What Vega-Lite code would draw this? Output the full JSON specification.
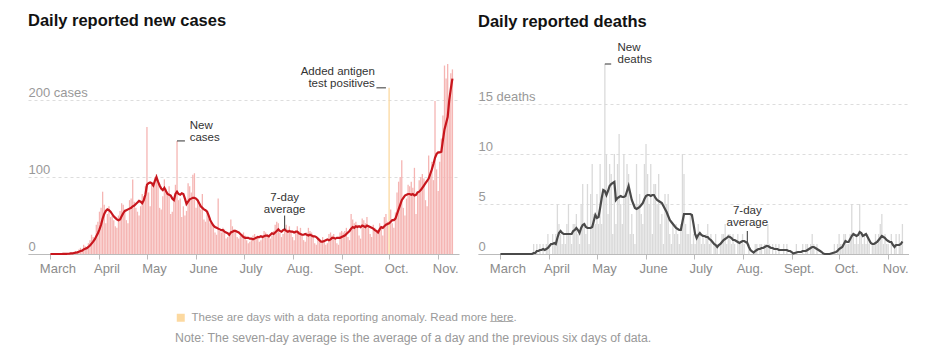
{
"$schema":"https://vega.github.io/schema/vega-lite/v6.json",
"padding":{"left":28,"top":12,"right":0,"bottom":0},
"bounds":"flush",
"spacing":19,
"config":{"font":"Liberation Sans","view":{"stroke":null}},
"datasets":{
"d":[
{"t":"2020-03-01","c":0,"ca":0,"d":0,"da":0,"k":"n"},
{"t":"2020-03-02","c":0,"ca":0,"d":0,"da":0,"k":"n"},
{"t":"2020-03-03","c":0,"ca":0,"d":0,"da":0,"k":"n"},
{"t":"2020-03-04","c":0,"ca":0,"d":0,"da":0,"k":"n"},
{"t":"2020-03-05","c":0,"ca":0,"d":0,"da":0,"k":"n"},
{"t":"2020-03-06","c":0,"ca":0,"d":0,"da":0,"k":"n"},
{"t":"2020-03-07","c":0,"ca":0,"d":0,"da":0,"k":"n"},
{"t":"2020-03-08","c":0,"ca":0,"d":0,"da":0,"k":"n"},
{"t":"2020-03-09","c":1,"ca":0.1,"d":0,"da":0,"k":"n"},
{"t":"2020-03-10","c":0,"ca":0.1,"d":0,"da":0,"k":"n"},
{"t":"2020-03-11","c":0,"ca":0.1,"d":0,"da":0,"k":"n"},
{"t":"2020-03-12","c":1,"ca":0.3,"d":0,"da":0,"k":"n"},
{"t":"2020-03-13","c":1,"ca":0.4,"d":0,"da":0,"k":"n"},
{"t":"2020-03-14","c":2,"ca":0.7,"d":0,"da":0,"k":"n"},
{"t":"2020-03-15","c":1,"ca":0.9,"d":0,"da":0,"k":"n"},
{"t":"2020-03-16","c":3,"ca":1.3,"d":0,"da":0,"k":"n"},
{"t":"2020-03-17","c":4,"ca":1.7,"d":0,"da":0,"k":"n"},
{"t":"2020-03-18","c":3,"ca":2.1,"d":0,"da":0,"k":"n"},
{"t":"2020-03-19","c":6,"ca":2.9,"d":0,"da":0,"k":"n"},
{"t":"2020-03-20","c":8,"ca":3.9,"d":0,"da":0,"k":"n"},
{"t":"2020-03-21","c":5,"ca":4.3,"d":0,"da":0,"k":"n"},
{"t":"2020-03-22","c":12,"ca":5.9,"d":1,"da":0.1,"k":"n"},
{"t":"2020-03-23","c":10,"ca":6.9,"d":0,"da":0.1,"k":"n"},
{"t":"2020-03-24","c":9,"ca":7.6,"d":1,"da":0.3,"k":"n"},
{"t":"2020-03-25","c":14,"ca":9.1,"d":0,"da":0.3,"k":"n"},
{"t":"2020-03-26","c":18,"ca":11,"d":1,"da":0.4,"k":"n"},
{"t":"2020-03-27","c":25,"ca":13.5,"d":0,"da":0.4,"k":"n"},
{"t":"2020-03-28","c":22,"ca":16,"d":1,"da":0.5,"k":"n"},
{"t":"2020-03-29","c":20,"ca":19,"d":0,"da":0.4,"k":"n"},
{"t":"2020-03-30","c":38,"ca":23,"d":1,"da":0.5,"k":"n"},
{"t":"2020-03-31","c":42,"ca":27,"d":2,"da":0.6,"k":"n"},
{"t":"2020-04-01","c":55,"ca":32,"d":1,"da":0.8,"k":"n"},
{"t":"2020-04-02","c":60,"ca":38,"d":0,"da":1.0,"k":"n"},
{"t":"2020-04-03","c":81,"ca":46,"d":2,"da":1.0,"k":"n"},
{"t":"2020-04-04","c":64,"ca":52,"d":1,"da":1.1,"k":"n"},
{"t":"2020-04-05","c":40,"ca":56,"d":2,"da":1.0,"k":"n"},
{"t":"2020-04-06","c":52,"ca":58,"d":5,"da":1.6,"k":"n"},
{"t":"2020-04-07","c":62,"ca":57,"d":3,"da":2.1,"k":"n"},
{"t":"2020-04-08","c":48,"ca":55,"d":2,"da":2.3,"k":"n"},
{"t":"2020-04-09","c":50,"ca":52,"d":1,"da":2.1,"k":"n"},
{"t":"2020-04-10","c":44,"ca":49,"d":2,"da":2.0,"k":"n"},
{"t":"2020-04-11","c":36,"ca":47,"d":1,"da":2.0,"k":"n"},
{"t":"2020-04-12","c":34,"ca":45,"d":3,"da":2.0,"k":"n"},
{"t":"2020-04-13","c":50,"ca":44,"d":5,"da":2.0,"k":"n"},
{"t":"2020-04-14","c":56,"ca":45,"d":2,"da":2.0,"k":"n"},
{"t":"2020-04-15","c":66,"ca":49,"d":1,"da":2.0,"k":"n"},
{"t":"2020-04-16","c":64,"ca":53,"d":3,"da":2.3,"k":"n"},
{"t":"2020-04-17","c":58,"ca":56,"d":3,"da":2.4,"k":"n"},
{"t":"2020-04-18","c":44,"ca":57,"d":4,"da":2.6,"k":"n"},
{"t":"2020-04-19","c":40,"ca":58,"d":2,"da":2.4,"k":"n"},
{"t":"2020-04-20","c":70,"ca":59,"d":1,"da":2.1,"k":"n"},
{"t":"2020-04-21","c":72,"ca":60,"d":5,"da":2.6,"k":"n"},
{"t":"2020-04-22","c":97,"ca":62,"d":7,"da":2.9,"k":"n"},
{"t":"2020-04-23","c":68,"ca":63,"d":3,"da":3.0,"k":"n"},
{"t":"2020-04-24","c":60,"ca":65,"d":2,"da":2.7,"k":"n"},
{"t":"2020-04-25","c":55,"ca":67,"d":7,"da":2.6,"k":"n"},
{"t":"2020-04-26","c":50,"ca":69,"d":1,"da":2.6,"k":"n"},
{"t":"2020-04-27","c":62,"ca":68,"d":6,"da":2.6,"k":"n"},
{"t":"2020-04-28","c":78,"ca":66,"d":9,"da":2.7,"k":"n"},
{"t":"2020-04-29","c":75,"ca":70,"d":4,"da":3.3,"k":"n"},
{"t":"2020-04-30","c":88,"ca":77,"d":3,"da":3.9,"k":"n"},
{"t":"2020-05-01","c":165,"ca":90,"d":6,"da":3.6,"k":"n"},
{"t":"2020-05-02","c":80,"ca":92,"d":3,"da":3.7,"k":"n"},
{"t":"2020-05-03","c":62,"ca":93,"d":9,"da":4.6,"k":"n"},
{"t":"2020-05-04","c":90,"ca":92,"d":3,"da":5.6,"k":"n"},
{"t":"2020-05-05","c":86,"ca":89,"d":6,"da":6.4,"k":"n"},
{"t":"2020-05-06","c":100,"ca":95,"d":19,"da":6.3,"k":"n"},
{"t":"2020-05-07","c":104,"ca":100,"d":10,"da":5.9,"k":"n"},
{"t":"2020-05-08","c":92,"ca":94,"d":4,"da":6.3,"k":"n"},
{"t":"2020-05-09","c":60,"ca":89,"d":9,"da":6.8,"k":"n"},
{"t":"2020-05-10","c":58,"ca":85,"d":8,"da":7.0,"k":"n"},
{"t":"2020-05-11","c":75,"ca":83,"d":2,"da":7.1,"k":"n"},
{"t":"2020-05-12","c":97,"ca":86,"d":10,"da":7.2,"k":"n"},
{"t":"2020-05-13","c":85,"ca":82,"d":3,"da":5.4,"k":"n"},
{"t":"2020-05-14","c":80,"ca":78,"d":9,"da":5.6,"k":"n"},
{"t":"2020-05-15","c":88,"ca":77,"d":12,"da":5.7,"k":"n"},
{"t":"2020-05-16","c":52,"ca":76,"d":5,"da":5.8,"k":"n"},
{"t":"2020-05-17","c":55,"ca":72,"d":3,"da":5.7,"k":"n"},
{"t":"2020-05-18","c":68,"ca":70,"d":10,"da":5.7,"k":"n"},
{"t":"2020-05-19","c":90,"ca":78,"d":6,"da":5.8,"k":"n"},
{"t":"2020-05-20","c":147,"ca":81,"d":9,"da":6.3,"k":"n"},
{"t":"2020-05-21","c":70,"ca":78,"d":8,"da":6.8,"k":"n"},
{"t":"2020-05-22","c":72,"ca":77,"d":2,"da":6.1,"k":"n"},
{"t":"2020-05-23","c":48,"ca":79,"d":4,"da":5.4,"k":"n"},
{"t":"2020-05-24","c":62,"ca":78,"d":2,"da":5.0,"k":"n"},
{"t":"2020-05-25","c":50,"ca":72,"d":1,"da":4.6,"k":"n"},
{"t":"2020-05-26","c":56,"ca":65,"d":9,"da":4.5,"k":"n"},
{"t":"2020-05-27","c":92,"ca":68,"d":5,"da":4.6,"k":"n"},
{"t":"2020-05-28","c":88,"ca":71,"d":6,"da":4.7,"k":"n"},
{"t":"2020-05-29","c":80,"ca":72,"d":4,"da":4.9,"k":"n"},
{"t":"2020-05-30","c":103,"ca":73,"d":3,"da":5.1,"k":"n"},
{"t":"2020-05-31","c":105,"ca":73,"d":9,"da":5.5,"k":"n"},
{"t":"2020-06-01","c":60,"ca":72,"d":11,"da":5.8,"k":"n"},
{"t":"2020-06-02","c":70,"ca":70,"d":8,"da":5.9,"k":"n"},
{"t":"2020-06-03","c":64,"ca":66,"d":5,"da":5.9,"k":"n"},
{"t":"2020-06-04","c":58,"ca":62,"d":9,"da":5.8,"k":"n"},
{"t":"2020-06-05","c":78,"ca":60,"d":2,"da":5.9,"k":"n"},
{"t":"2020-06-06","c":45,"ca":58,"d":7,"da":5.9,"k":"n"},
{"t":"2020-06-07","c":42,"ca":57,"d":7,"da":5.6,"k":"n"},
{"t":"2020-06-08","c":55,"ca":55,"d":5,"da":5.4,"k":"n"},
{"t":"2020-06-09","c":46,"ca":50,"d":8,"da":5.3,"k":"n"},
{"t":"2020-06-10","c":40,"ca":44,"d":3,"da":5.2,"k":"n"},
{"t":"2020-06-11","c":38,"ca":40,"d":4,"da":5.1,"k":"n"},
{"t":"2020-06-12","c":36,"ca":37,"d":1,"da":4.8,"k":"n"},
{"t":"2020-06-13","c":28,"ca":35,"d":6,"da":4.5,"k":"n"},
{"t":"2020-06-14","c":25,"ca":34,"d":5,"da":4.2,"k":"n"},
{"t":"2020-06-15","c":72,"ca":33,"d":6,"da":3.8,"k":"n"},
{"t":"2020-06-16","c":30,"ca":32,"d":2,"da":3.4,"k":"n"},
{"t":"2020-06-17","c":28,"ca":31,"d":1,"da":3.2,"k":"n"},
{"t":"2020-06-18","c":34,"ca":31,"d":3,"da":3.0,"k":"n"},
{"t":"2020-06-19","c":32,"ca":29,"d":2,"da":2.8,"k":"n"},
{"t":"2020-06-20","c":20,"ca":28,"d":3,"da":2.6,"k":"n"},
{"t":"2020-06-21","c":22,"ca":27,"d":2,"da":2.5,"k":"n"},
{"t":"2020-06-22","c":26,"ca":25,"d":1,"da":2.4,"k":"n"},
{"t":"2020-06-23","c":45,"ca":28,"d":3,"da":2.4,"k":"n"},
{"t":"2020-06-24","c":36,"ca":29,"d":10,"da":3.2,"k":"n"},
{"t":"2020-06-25","c":32,"ca":30,"d":8,"da":4.0,"k":"n"},
{"t":"2020-06-26","c":30,"ca":30,"d":3,"da":4.0,"k":"n"},
{"t":"2020-06-27","c":22,"ca":29,"d":2,"da":4.0,"k":"n"},
{"t":"2020-06-28","c":20,"ca":28,"d":2,"da":4.0,"k":"n"},
{"t":"2020-06-29","c":24,"ca":26,"d":4,"da":4.0,"k":"n"},
{"t":"2020-06-30","c":26,"ca":24,"d":1,"da":3.9,"k":"n"},
{"t":"2020-07-01","c":28,"ca":22,"d":2,"da":3.0,"k":"n"},
{"t":"2020-07-02","c":24,"ca":21,"d":1,"da":2.0,"k":"n"},
{"t":"2020-07-03","c":18,"ca":21,"d":2,"da":1.6,"k":"n"},
{"t":"2020-07-04","c":14,"ca":21,"d":3,"da":1.9,"k":"n"},
{"t":"2020-07-05","c":16,"ca":20,"d":2,"da":2.1,"k":"n"},
{"t":"2020-07-06","c":20,"ca":20,"d":1,"da":1.9,"k":"n"},
{"t":"2020-07-07","c":24,"ca":19,"d":2,"da":1.8,"k":"n"},
{"t":"2020-07-08","c":26,"ca":20,"d":1,"da":1.8,"k":"n"},
{"t":"2020-07-09","c":22,"ca":21,"d":2,"da":1.7,"k":"n"},
{"t":"2020-07-10","c":24,"ca":22,"d":3,"da":1.7,"k":"n"},
{"t":"2020-07-11","c":16,"ca":22,"d":1,"da":1.5,"k":"n"},
{"t":"2020-07-12","c":18,"ca":23,"d":2,"da":1.4,"k":"n"},
{"t":"2020-07-13","c":22,"ca":22,"d":0,"da":1.2,"k":"n"},
{"t":"2020-07-14","c":30,"ca":23,"d":1,"da":1.0,"k":"n"},
{"t":"2020-07-15","c":28,"ca":24,"d":2,"da":0.9,"k":"n"},
{"t":"2020-07-16","c":26,"ca":24,"d":1,"da":0.7,"k":"n"},
{"t":"2020-07-17","c":22,"ca":23,"d":0,"da":0.9,"k":"n"},
{"t":"2020-07-18","c":20,"ca":25,"d":1,"da":1.0,"k":"n"},
{"t":"2020-07-19","c":24,"ca":27,"d":2,"da":1.2,"k":"n"},
{"t":"2020-07-20","c":30,"ca":26,"d":2,"da":1.4,"k":"n"},
{"t":"2020-07-21","c":38,"ca":28,"d":3,"da":1.5,"k":"n"},
{"t":"2020-07-22","c":42,"ca":30,"d":1,"da":1.6,"k":"n"},
{"t":"2020-07-23","c":40,"ca":32,"d":2,"da":1.75,"k":"n"},
{"t":"2020-07-24","c":28,"ca":30,"d":2,"da":1.7,"k":"n"},
{"t":"2020-07-25","c":22,"ca":29,"d":1,"da":1.6,"k":"n"},
{"t":"2020-07-26","c":26,"ca":31,"d":2,"da":1.4,"k":"n"},
{"t":"2020-07-27","c":34,"ca":32,"d":1,"da":1.4,"k":"n"},
{"t":"2020-07-28","c":38,"ca":30,"d":0,"da":1.3,"k":"n"},
{"t":"2020-07-29","c":32,"ca":29,"d":2,"da":1.2,"k":"n"},
{"t":"2020-07-30","c":36,"ca":30,"d":1,"da":1.1,"k":"n"},
{"t":"2020-07-31","c":30,"ca":29,"d":1,"da":1.2,"k":"n"},
{"t":"2020-08-01","c":22,"ca":29,"d":2,"da":1.3,"k":"n"},
{"t":"2020-08-02","c":18,"ca":28,"d":1,"da":1.3,"k":"n"},
{"t":"2020-08-03","c":30,"ca":29,"d":0,"da":1.2,"k":"n"},
{"t":"2020-08-04","c":36,"ca":29,"d":0,"da":1.1,"k":"n"},
{"t":"2020-08-05","c":30,"ca":27,"d":1,"da":0.7,"k":"n"},
{"t":"2020-08-06","c":34,"ca":26,"d":0,"da":0.4,"k":"n"},
{"t":"2020-08-07","c":26,"ca":25,"d":0,"da":0.25,"k":"n"},
{"t":"2020-08-08","c":18,"ca":25,"d":0,"da":0.15,"k":"n"},
{"t":"2020-08-09","c":16,"ca":26,"d":1,"da":0.3,"k":"n"},
{"t":"2020-08-10","c":28,"ca":25,"d":1,"da":0.4,"k":"n"},
{"t":"2020-08-11","c":34,"ca":24,"d":0,"da":0.5,"k":"n"},
{"t":"2020-08-12","c":30,"ca":25,"d":1,"da":0.5,"k":"n"},
{"t":"2020-08-13","c":28,"ca":24,"d":1,"da":0.6,"k":"n"},
{"t":"2020-08-14","c":24,"ca":23,"d":0,"da":0.6,"k":"n"},
{"t":"2020-08-15","c":14,"ca":23,"d":1,"da":0.7,"k":"n"},
{"t":"2020-08-16","c":12,"ca":22,"d":1,"da":0.8,"k":"n"},
{"t":"2020-08-17","c":20,"ca":20,"d":3,"da":0.8,"k":"n"},
{"t":"2020-08-18","c":18,"ca":18,"d":1,"da":0.7,"k":"n"},
{"t":"2020-08-19","c":16,"ca":16,"d":0,"da":0.6,"k":"n"},
{"t":"2020-08-20","c":22,"ca":16,"d":1,"da":0.6,"k":"n"},
{"t":"2020-08-21","c":18,"ca":17,"d":0,"da":0.5,"k":"n"},
{"t":"2020-08-22","c":12,"ca":18,"d":1,"da":0.5,"k":"n"},
{"t":"2020-08-23","c":14,"ca":19,"d":0,"da":0.5,"k":"n"},
{"t":"2020-08-24","c":26,"ca":18,"d":1,"da":0.4,"k":"n"},
{"t":"2020-08-25","c":28,"ca":19,"d":0,"da":0.4,"k":"n"},
{"t":"2020-08-26","c":24,"ca":21,"d":0,"da":0.4,"k":"n"},
{"t":"2020-08-27","c":26,"ca":21,"d":1,"da":0.4,"k":"n"},
{"t":"2020-08-28","c":20,"ca":20,"d":0,"da":0.4,"k":"n"},
{"t":"2020-08-29","c":14,"ca":21,"d":1,"da":0.4,"k":"n"},
{"t":"2020-08-30","c":12,"ca":21,"d":0,"da":0.3,"k":"n"},
{"t":"2020-08-31","c":28,"ca":21,"d":0,"da":0.3,"k":"n"},
{"t":"2020-09-01","c":30,"ca":22,"d":0,"da":0.2,"k":"n"},
{"t":"2020-09-02","c":28,"ca":23,"d":0,"da":0.05,"k":"n"},
{"t":"2020-09-03","c":30,"ca":24,"d":0,"da":0.1,"k":"n"},
{"t":"2020-09-04","c":34,"ca":26,"d":1,"da":0.15,"k":"n"},
{"t":"2020-09-05","c":22,"ca":28,"d":0,"da":0.2,"k":"n"},
{"t":"2020-09-06","c":18,"ca":30,"d":0,"da":0.2,"k":"n"},
{"t":"2020-09-07","c":52,"ca":33,"d":0,"da":0.2,"k":"n"},
{"t":"2020-09-08","c":45,"ca":35,"d":1,"da":0.3,"k":"n"},
{"t":"2020-09-09","c":40,"ca":34,"d":0,"da":0.3,"k":"n"},
{"t":"2020-09-10","c":42,"ca":36,"d":1,"da":0.3,"k":"n"},
{"t":"2020-09-11","c":38,"ca":35,"d":1,"da":0.4,"k":"n"},
{"t":"2020-09-12","c":24,"ca":36,"d":0,"da":0.5,"k":"n"},
{"t":"2020-09-13","c":20,"ca":35,"d":1,"da":0.6,"k":"n"},
{"t":"2020-09-14","c":46,"ca":37,"d":2,"da":0.7,"k":"n"},
{"t":"2020-09-15","c":44,"ca":36,"d":1,"da":0.7,"k":"n"},
{"t":"2020-09-16","c":40,"ca":35,"d":0,"da":0.6,"k":"n"},
{"t":"2020-09-17","c":48,"ca":37,"d":1,"da":0.5,"k":"n"},
{"t":"2020-09-18","c":36,"ca":36,"d":0,"da":0.4,"k":"n"},
{"t":"2020-09-19","c":26,"ca":35,"d":0,"da":0.3,"k":"n"},
{"t":"2020-09-20","c":22,"ca":34,"d":0,"da":0.2,"k":"n"},
{"t":"2020-09-21","c":38,"ca":33,"d":0,"da":0.05,"k":"n"},
{"t":"2020-09-22","c":34,"ca":31,"d":0,"da":0,"k":"n"},
{"t":"2020-09-23","c":30,"ca":30,"d":0,"da":0,"k":"n"},
{"t":"2020-09-24","c":28,"ca":28,"d":0,"da":0,"k":"n"},
{"t":"2020-09-25","c":40,"ca":32,"d":0,"da":0,"k":"n"},
{"t":"2020-09-26","c":34,"ca":35,"d":0,"da":0.05,"k":"n"},
{"t":"2020-09-27","c":24,"ca":34,"d":0,"da":0.1,"k":"n"},
{"t":"2020-09-28","c":48,"ca":36,"d":1,"da":0.15,"k":"n"},
{"t":"2020-09-29","c":52,"ca":38,"d":0,"da":0.2,"k":"n"},
{"t":"2020-09-30","c":42,"ca":39,"d":1,"da":0.3,"k":"n"},
{"t":"2020-10-01","c":216,"ca":40,"d":2,"da":0.5,"k":"a"},
{"t":"2020-10-02","c":58,"ca":42,"d":1,"da":0.6,"k":"n"},
{"t":"2020-10-03","c":40,"ca":44,"d":1,"da":0.7,"k":"n"},
{"t":"2020-10-04","c":34,"ca":44,"d":2,"da":1.0,"k":"n"},
{"t":"2020-10-05","c":54,"ca":46,"d":2,"da":1.3,"k":"n"},
{"t":"2020-10-06","c":80,"ca":52,"d":1,"da":1.2,"k":"n"},
{"t":"2020-10-07","c":94,"ca":58,"d":1,"da":1.2,"k":"n"},
{"t":"2020-10-08","c":100,"ca":64,"d":2,"da":1.5,"k":"n"},
{"t":"2020-10-09","c":122,"ca":70,"d":5,"da":1.8,"k":"n"},
{"t":"2020-10-10","c":60,"ca":73,"d":2,"da":2.0,"k":"n"},
{"t":"2020-10-11","c":50,"ca":76,"d":1,"da":1.9,"k":"n"},
{"t":"2020-10-12","c":72,"ca":77,"d":2,"da":1.8,"k":"n"},
{"t":"2020-10-13","c":90,"ca":78,"d":1,"da":1.9,"k":"n"},
{"t":"2020-10-14","c":88,"ca":78,"d":5,"da":2.2,"k":"n"},
{"t":"2020-10-15","c":94,"ca":77,"d":2,"da":2.1,"k":"n"},
{"t":"2020-10-16","c":86,"ca":78,"d":1,"da":1.8,"k":"n"},
{"t":"2020-10-17","c":112,"ca":76,"d":2,"da":1.9,"k":"n"},
{"t":"2020-10-18","c":52,"ca":77,"d":1,"da":2.0,"k":"n"},
{"t":"2020-10-19","c":78,"ca":80,"d":2,"da":1.7,"k":"n"},
{"t":"2020-10-20","c":96,"ca":81,"d":1,"da":1.4,"k":"n"},
{"t":"2020-10-21","c":100,"ca":83,"d":0,"da":1.1,"k":"n"},
{"t":"2020-10-22","c":104,"ca":86,"d":1,"da":1.0,"k":"n"},
{"t":"2020-10-23","c":98,"ca":89,"d":1,"da":1.0,"k":"n"},
{"t":"2020-10-24","c":70,"ca":92,"d":2,"da":1.1,"k":"n"},
{"t":"2020-10-25","c":62,"ca":95,"d":1,"da":1.2,"k":"n"},
{"t":"2020-10-26","c":128,"ca":98,"d":2,"da":1.4,"k":"n"},
{"t":"2020-10-27","c":104,"ca":104,"d":3,"da":1.6,"k":"n"},
{"t":"2020-10-28","c":120,"ca":110,"d":4,"da":1.8,"k":"n"},
{"t":"2020-10-29","c":96,"ca":117,"d":1,"da":1.7,"k":"n"},
{"t":"2020-10-30","c":199,"ca":125,"d":2,"da":1.6,"k":"n"},
{"t":"2020-10-31","c":110,"ca":130,"d":1,"da":1.4,"k":"n"},
{"t":"2020-11-01","c":82,"ca":132,"d":1,"da":1.3,"k":"n"},
{"t":"2020-11-02","c":120,"ca":132,"d":0,"da":1.2,"k":"n"},
{"t":"2020-11-03","c":150,"ca":133,"d":2,"da":1.2,"k":"n"},
{"t":"2020-11-04","c":180,"ca":148,"d":0,"da":0.9,"k":"n"},
{"t":"2020-11-05","c":245,"ca":162,"d":1,"da":0.7,"k":"n"},
{"t":"2020-11-06","c":228,"ca":170,"d":2,"da":0.9,"k":"n"},
{"t":"2020-11-07","c":247,"ca":178,"d":0,"da":0.9,"k":"n"},
{"t":"2020-11-08","c":200,"ca":200,"d":2,"da":0.9,"k":"n"},
{"t":"2020-11-09","c":235,"ca":215,"d":1,"da":1.0,"k":"n"},
{"t":"2020-11-10","c":240,"ca":228,"d":3,"da":1.25,"k":"n"}
],
"ann":[
{"p":"c","t":"New\ncases","x":"2020-05-28","y":151.5,"al":"left"},
{"p":"c","t":"7-day\naverage","x":"2020-07-27","y":64,"al":"center"},
{"p":"c","t":"Added antigen\ntest positives","x":"2020-09-22","y":220.5,"al":"right"},
{"p":"d","t":"New\ndeaths","x":"2020-05-14","y":19.45,"al":"left"},
{"p":"d","t":"7-day\naverage","x":"2020-08-04","y":3.63,"al":"center"}
],
"tk":[
{"p":"c","x":"2020-05-20","x2":"2020-05-25","y":147,"y2":147},
{"p":"c","x":"2020-07-27","x2":"2020-07-27","y":50,"y2":32},
{"p":"c","x":"2020-09-23","x2":"2020-09-29","y":216,"y2":216},
{"p":"d","x":"2020-05-06","x2":"2020-05-10","y":19,"y2":19},
{"p":"d","x":"2020-08-04","x2":"2020-08-04","y":2.3,"y2":1.2}
]
},
"hconcat":[
{
"width":431,"height":200,
"title":{"text":"Daily reported new cases","anchor":"start","frame":"group","fontSize":16.5,"fontWeight":"bold","color":"#121212","baseline":"alphabetic","offset":12},
"layer":[
{"data":{"name":"d"},"mark":{"type":"bar","size":1.3},
"encoding":{
"x":{"field":"t","type":"temporal","scale":{"type":"utc","domain":[{"year":2020,"month":2,"date":19,"utc":true},{"year":2020,"month":11,"date":11,"utc":true}]},
"axis":{"title":null,"tickCount":{"interval":"month","step":1},"labelExpr":"['Jan.','Feb.','March','April','May','June','July','Aug.','Sept.','Oct.','Nov.','Dec.'][utcmonth(datum.value)]","domainColor":"#bbb","tickColor":"#bbb","tickSize":5,"labelColor":"#8c8c8c","labelFontSize":13,"labelPadding":3,"labelOffset":7,"grid":false,"labelFlush":false,"labelOverlap":false}},
"y":{"field":"c","type":"quantitative","scale":{"domain":[0,247]},
"axis":{"title":null,"values":[0,100,200],"labelExpr":"datum.value==200?'200 cases':datum.label","domain":false,"ticks":false,"grid":true,"gridDash":[3,3],"gridColor":"#ddd","labelAlign":"left","labelPadding":0,"labelBaseline":"alphabetic","labelOffset":-4,"labelColor":"#999","labelFontSize":13}},
"color":{"field":"k","type":"nominal","scale":{"domain":["n","a"],"range":["#f5b5b3","#fcd9a0"]},
"legend":{"orient":"none","legendX":147,"legendY":258,"values":["a"],"labelExpr":"'These are days with a data reporting anomaly. Read more h\u0332e\u0332r\u0332e\u0332.'","title":"Note: The seven-day average is the average of a day and the previous six days of data.","titleOrient":"bottom","titleAnchor":"start","titleFontWeight":"normal","titleFontSize":12.3,"titleColor":"#999","titleLimit":900,"titlePadding":9,"labelLimit":900,"labelFontSize":11.5,"labelColor":"#999","labelOffset":5,"symbolType":"square","symbolSize":64,"symbolStrokeWidth":0}}
}},
{"data":{"name":"d"},"mark":{"type":"line","color":"#c8161d","strokeWidth":2.2},
"encoding":{"x":{"field":"t","type":"temporal"},"y":{"field":"ca","type":"quantitative"}}},
{"data":{"name":"tk"},"transform":[{"filter":"datum.p=='c'"}],"mark":{"type":"rule","color":"#333","strokeWidth":1},
"encoding":{"x":{"field":"x","type":"temporal"},"x2":{"field":"x2"},"y":{"field":"y","type":"quantitative"},"y2":{"field":"y2"}}},
{"data":{"name":"ann"},"transform":[{"filter":"datum.p=='c' && datum.al=='left'"}],"mark":{"type":"text","align":"left","baseline":"middle","dy":-11,"lineBreak":"\n","lineHeight":12,"fontSize":11.5,"color":"#333"},
"encoding":{"x":{"field":"x","type":"temporal"},"y":{"field":"y","type":"quantitative"},"text":{"field":"t"}}},
{"data":{"name":"ann"},"transform":[{"filter":"datum.p=='c' && datum.al=='center'"}],"mark":{"type":"text","align":"center","baseline":"middle","dy":-7,"lineBreak":"\n","lineHeight":12,"fontSize":11.5,"color":"#333"},
"encoding":{"x":{"field":"x","type":"temporal"},"y":{"field":"y","type":"quantitative"},"text":{"field":"t"}}},
{"data":{"name":"ann"},"transform":[{"filter":"datum.p=='c' && datum.al=='right'"}],"mark":{"type":"text","align":"right","baseline":"middle","dy":-12,"lineBreak":"\n","lineHeight":12,"fontSize":11.5,"color":"#333"},
"encoding":{"x":{"field":"x","type":"temporal"},"y":{"field":"y","type":"quantitative"},"text":{"field":"t"}}}
]
},
{
"width":431,"height":200,
"title":{"text":"Daily reported deaths","anchor":"start","frame":"group","fontSize":16.5,"fontWeight":"bold","color":"#121212","baseline":"alphabetic","offset":-2},
"layer":[
{"data":{"name":"d"},"mark":{"type":"bar","size":1.3,"color":"#dadada"},
"encoding":{
"x":{"field":"t","type":"temporal","scale":{"type":"utc","domain":[{"year":2020,"month":2,"date":19,"utc":true},{"year":2020,"month":11,"date":11,"utc":true}]},
"axis":{"title":null,"tickCount":{"interval":"month","step":1},"labelExpr":"['Jan.','Feb.','March','April','May','June','July','Aug.','Sept.','Oct.','Nov.','Dec.'][utcmonth(datum.value)]","domainColor":"#bbb","tickColor":"#bbb","tickSize":5,"labelColor":"#8c8c8c","labelFontSize":13,"labelPadding":3,"labelOffset":7,"grid":false,"labelFlush":false,"labelOverlap":false}},
"y":{"field":"d","type":"quantitative","scale":{"domain":[0,19]},
"axis":{"title":null,"values":[0,5,10,15],"labelExpr":"datum.value==15?'15 deaths':datum.label","domain":false,"ticks":false,"grid":true,"gridDash":[3,3],"gridColor":"#ddd","labelAlign":"left","labelPadding":0,"labelBaseline":"alphabetic","labelOffset":-4,"labelColor":"#999","labelFontSize":13}}
}},
{"data":{"name":"d"},"mark":{"type":"line","color":"#4a4a4a","strokeWidth":2.2},
"encoding":{"x":{"field":"t","type":"temporal"},"y":{"field":"da","type":"quantitative"}}},
{"data":{"name":"tk"},"transform":[{"filter":"datum.p=='d'"}],"mark":{"type":"rule","color":"#333","strokeWidth":1},
"encoding":{"x":{"field":"x","type":"temporal"},"x2":{"field":"x2"},"y":{"field":"y","type":"quantitative"},"y2":{"field":"y2"}}},
{"data":{"name":"ann"},"transform":[{"filter":"datum.p=='d' && datum.al=='left'"}],"mark":{"type":"text","align":"left","baseline":"middle","dy":-12,"lineBreak":"\n","lineHeight":12,"fontSize":11.5,"color":"#333"},
"encoding":{"x":{"field":"x","type":"temporal"},"y":{"field":"y","type":"quantitative"},"text":{"field":"t"}}},
{"data":{"name":"ann"},"transform":[{"filter":"datum.p=='d' && datum.al=='center'"}],"mark":{"type":"text","align":"center","baseline":"middle","dy":-7,"lineBreak":"\n","lineHeight":12,"fontSize":11.5,"color":"#333"},
"encoding":{"x":{"field":"x","type":"temporal"},"y":{"field":"y","type":"quantitative"},"text":{"field":"t"}}}
]
}
]
}
